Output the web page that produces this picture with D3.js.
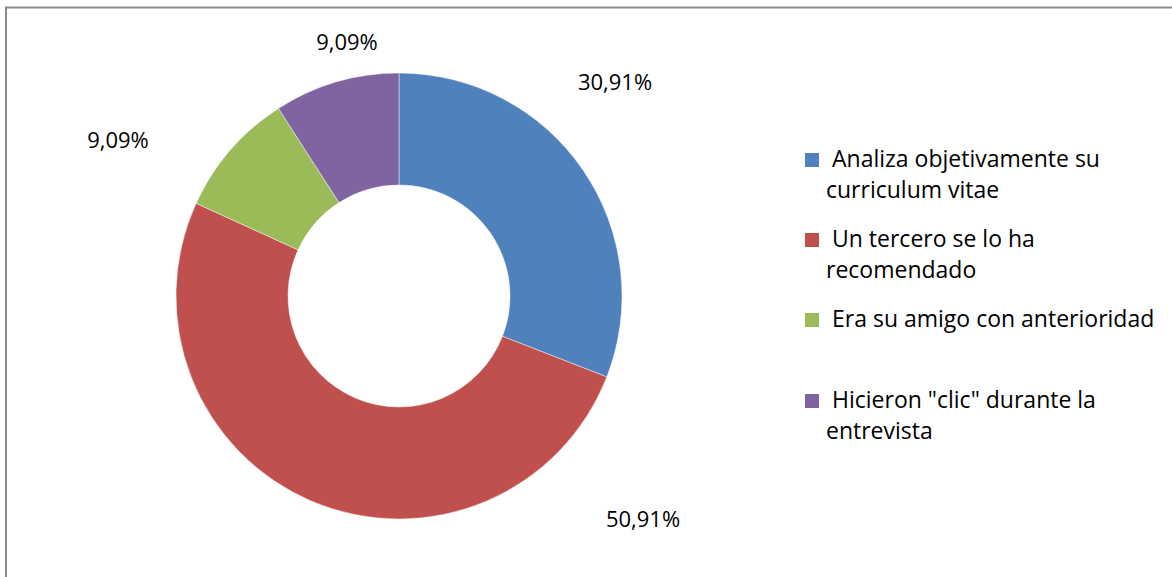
<!DOCTYPE html>
<html>
<head>
<meta charset="utf-8">
<script src="https://cdn.jsdelivr.net/npm/d3@7"></script>
<style>
  html, body { margin: 0; padding: 0; background: #fff; }
  svg { display: block; }
  text { font-family: "Open Sans", Lato, sans-serif; fill: #000; }
</style>
</head>
<body>
<svg id="chart" width="1172" height="577"></svg>
<script>
// Why did the employer choose this candidate? (share of responses)
const categories = [
  "Analiza objetivamente su curriculum vitae",
  "Un tercero se lo ha recomendado",
  "Era su amigo con anterioridad",
  "Hicieron \"clic\" durante la entrevista"
];
const legendLines = [
  ["Analiza objetivamente su", "curriculum vitae"],
  ["Un tercero se lo ha", "recomendado"],
  ["Era su amigo con anterioridad"],
  ["Hicieron \"clic\" durante la", "entrevista"]
];
const values = [30.91, 50.91, 9.09, 9.09];
const valueLabels = ["30,91%", "50,91%", "9,09%", "9,09%"];
const colors = ["#4F81BD", "#C0504D", "#9BBB59", "#8064A2"];

// Layout
const cx = 399, cy = 296;
const outerR = 223, innerR = 111;
// label baseline anchors, relative to the donut centre
const labelOffsets = [[216, -206], [244, 231], [-52, -246], [-281, -148]];
const legendX = 805, legendBaselines = [167, 247, 327, 408], lineGap = 31;

const svg = d3.select("#chart");

// Frame (top and left edges visible)
svg.append("line").attr("x1", 5).attr("x2", 1172).attr("y1", 7.5).attr("y2", 7.5)
  .attr("stroke", "#8a8a8a").attr("stroke-width", 2);
svg.append("line").attr("x1", 6).attr("x2", 6).attr("y1", 7).attr("y2", 577)
  .attr("stroke", "#8a8a8a").attr("stroke-width", 2);

const pie = d3.pie().sort(null).value(d => d);
const arc = d3.arc().innerRadius(innerR).outerRadius(outerR);

const g = svg.append("g").attr("transform", `translate(${cx},${cy})`);
g.selectAll("path.slice")
  .data(pie(values))
  .join("path")
  .attr("class", "slice")
  .attr("d", arc)
  .attr("fill", (d, i) => colors[i])
  .attr("stroke", "#fff")
  .attr("stroke-opacity", 0.6)
  .attr("stroke-width", 0.75);

g.selectAll("text.value")
  .data(valueLabels)
  .join("text")
  .attr("class", "value")
  .attr("x", (d, i) => labelOffsets[i][0])
  .attr("y", (d, i) => labelOffsets[i][1])
  .attr("text-anchor", "middle")
  .style("font-size", "22px")
  .text(d => d);

// Legend
const leg = svg.append("g");
legendLines.forEach((lines, i) => {
  const y = legendBaselines[i];
  leg.append("rect")
    .attr("x", legendX).attr("y", y - 14)
    .attr("width", 14).attr("height", 14)
    .attr("fill", colors[i]);
  lines.forEach((line, j) => {
    leg.append("text")
      .attr("x", j === 0 ? 832 : 826)
      .attr("y", y + j * lineGap)
      .style("font-size", "23px")
      .text(line);
  });
});
</script>
</body>
</html>
